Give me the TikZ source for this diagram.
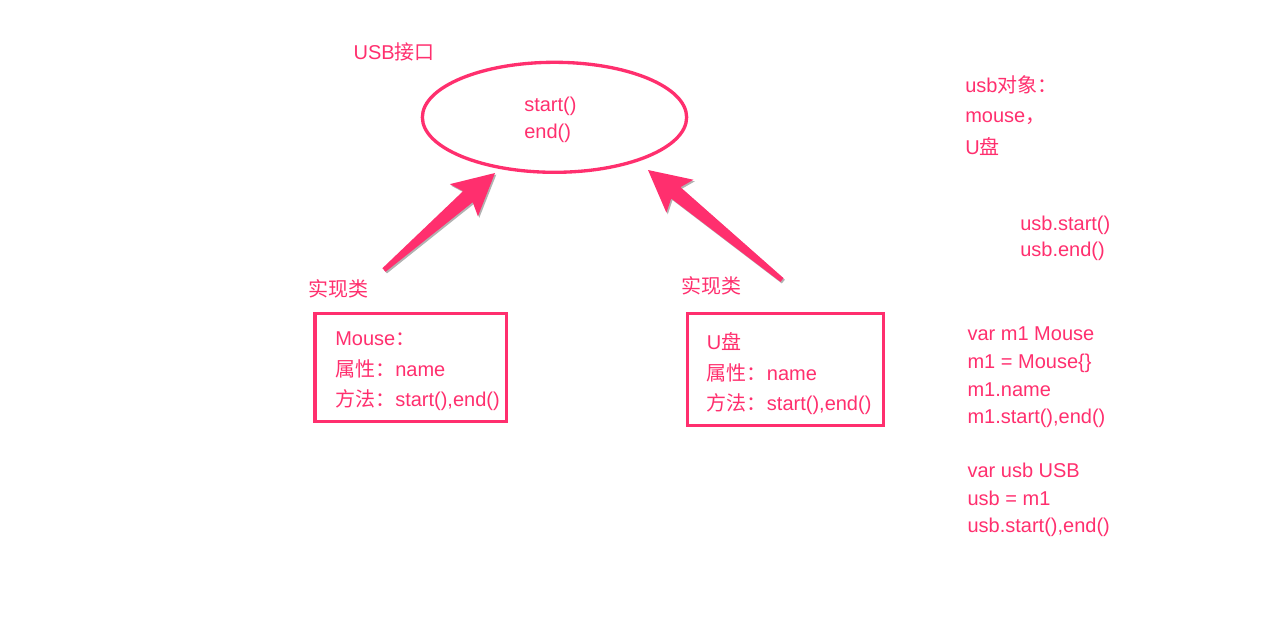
\documentclass[tikz,border=0pt]{standalone}
\usepackage{fontspec}
\setmainfont{Liberation Sans}
\newfontfamily\cjk{Noto Sans CJK SC}
\usetikzlibrary{calc,shapes.geometric,shadows}
\definecolor{usbpink}{HTML}{FF2F6E}
\newcommand\fatarrow[2]{%
  \fill[arrowfill] (#2) -- ($(#2)!31pt!(#1)!16pt!90:(#1)$) -- ($(#2)!27pt!(#1)!5.5pt!90:(#1)$)
    -- ($(#1)!1.8pt!-90:(#2)$) -- ($(#1)!1.8pt!90:(#2)$)
    -- ($(#2)!27pt!(#1)!5.5pt!-90:(#1)$) -- ($(#2)!31pt!(#1)!16pt!-90:(#1)$) -- cycle;}
\begin{document}
\begin{tikzpicture}[x=0.75pt,y=-0.75pt,
  txt/.style={anchor=base west, inner sep=0pt, text=usbpink, font=\fontsize{15pt}{18pt}\selectfont},
  frame/.style={draw=usbpink, line width=2.5pt, rectangle, inner sep=0pt},
  iface/.style={draw=usbpink, line width=2.5pt, ellipse, inner sep=0pt},
  arrowfill/.style={fill=usbpink, drop shadow={shadow xshift=1pt, shadow yshift=-1.2pt, opacity=0.3, fill=black}}]
\useasboundingbox (0,0) rectangle (1280,643);

% interface
\node[iface, minimum width=198.2pt, minimum height=82.5pt] (usb) at (554.5,117.3) {};
\node[txt] (usblabel) at (353.3,59.3) {USB{\cjk 接口}};
\node[txt] (mstart) at (524,111.7) {start()};
\node[txt] (mend) at (524,138.3) {end()};

% implementation classes
\node[txt] (impl1) at (308,296.5) {{\cjk 实现类}};
\node[txt] (impl2) at (681.7,293.5) {{\cjk 实现类}};

\node[frame, minimum width=143.5pt, minimum height=81pt] (mouse) at (410.7,367.4) {};
\node[txt] (m1) at (335,345) {Mouse{\cjk ：}};
\node[txt] (m2) at (335,376) {{\cjk 属性：}name};
\node[txt] (m3) at (335,406.7) {{\cjk 方法：}start(),end()};

\node[frame, minimum width=146.9pt, minimum height=84pt] (udisk) at (785.5,369.4) {};
\node[txt] (u1) at (706.7,349.3) {U{\cjk 盘}};
\node[txt] (u2) at (706.7,380) {{\cjk 属性：}name};
\node[txt] (u3) at (706.7,410) {{\cjk 方法：}start(),end()};

% arrows
\coordinate (tail1) at (384,270);
\coordinate (tip1) at (495,173);
\coordinate (tail2) at (782,280);
\coordinate (tip2) at (648,170);
\fatarrow{tail1}{tip1}
\fatarrow{tail2}{tip2}

% notes on the right
\node[txt] (r1) at (965,92.3) {usb{\cjk 对象：}};
\node[txt] (r2) at (965,122.7) {mouse{\cjk ，}};
\node[txt] (r3) at (965,154) {U{\cjk 盘}};
\node[txt] (r4) at (1020,230) {usb.start()};
\node[txt] (r5) at (1020,256.7) {usb.end()};
\node[txt] (c1) at (967.3,340.7) {var m1 Mouse};
\node[txt] (c2) at (967.3,368.3) {m1 = Mouse\{\}};
\node[txt] (c3) at (967.3,396) {m1.name};
\node[txt] (c4) at (967.3,423.3) {m1.start(),end()};
\node[txt] (c5) at (967.3,477.3) {var usb USB};
\node[txt] (c6) at (967.3,505) {usb = m1};
\node[txt] (c7) at (967.3,532.7) {usb.start(),end()};
\end{tikzpicture}
\end{document}
